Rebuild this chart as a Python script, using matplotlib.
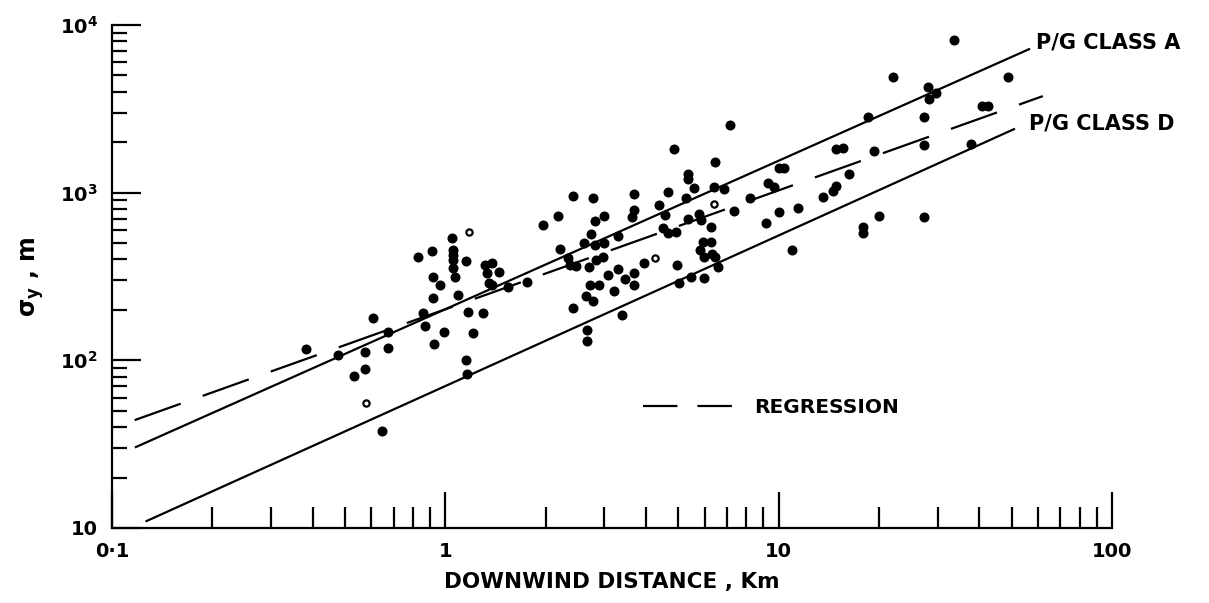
import matplotlib
matplotlib.use("Agg")
import matplotlib.pyplot as plt
from matplotlib.lines import Line2D

# observed sigma_y (solid dots)
obs_x = [0.383, 0.478, 0.533, 0.575, 0.575, 0.608, 0.647, 0.675, 0.675, 0.830,
         0.859, 0.871, 0.927, 0.993, 0.914, 0.920, 0.920, 0.966, 1.05, 1.054,
         1.054, 1.054, 1.054, 1.07, 1.094, 1.156, 1.156, 1.163, 1.172, 1.30,
         1.213, 1.318, 1.384, 1.452, 1.337, 1.355, 1.384, 1.546, 1.762,
         1.969, 2.18, 2.42, 2.78, 3.67, 4.84, 4.64, 4.39, 4.55, 3.67,
         3.62, 3.00, 2.82, 2.73, 2.60, 2.82, 3.00, 3.29, 2.21, 2.34,
         2.37, 2.46, 2.69, 2.84, 2.98, 3.07, 3.29, 3.67, 3.94, 4.94,
         5.01, 2.71, 2.90, 3.20, 3.47, 3.67, 2.65, 2.78, 2.42, 3.38,
         2.67, 2.67, 4.49, 4.67, 4.91, 5.33, 5.33, 5.56, 5.26, 6.38,
         6.84, 7.13, 6.42, 5.75, 5.83, 6.25, 5.33, 7.33, 8.18, 9.27,
         9.66, 10.0, 10.35, 5.91, 6.25, 5.79, 6.29, 5.95, 6.42, 6.56,
         5.44, 5.95, 9.14, 10.0, 11.4, 11.0, 13.6, 14.6, 14.9, 16.2,
         14.9, 15.6, 19.3, 18.5, 22.1, 17.9, 17.9, 20.0, 33.6, 48.8,
         28.0, 28.2, 29.6, 27.2, 40.7, 42.5, 27.2, 37.8, 27.2]
obs_y = [117, 108, 80.5, 112, 88.8, 179, 37.9, 147, 118, 413,
         191, 160, 125, 147, 450, 314, 235, 281, 535, 456,
         425, 396, 355, 314, 245, 390, 100, 82.8, 194, 191,
         146, 370, 380, 336, 332, 289, 281, 274, 293,
         640, 725, 955, 930, 980, 1820, 1010, 845, 735, 790,
         715, 725, 680, 565, 500, 485, 500, 550, 460, 407,
         370, 365, 360, 396, 413, 323, 350, 332, 380, 370,
         289, 281, 281, 259, 305, 281, 242, 226, 205, 186,
         152, 130, 615, 575, 580, 1290, 1205, 1065, 930, 1080,
         1050, 2530, 1520, 745, 690, 620, 695, 775, 930, 1140,
         1080, 1400, 1400, 505, 505, 455, 430, 413, 413, 360,
         314, 310, 660, 765, 810, 455, 940, 1020, 1095, 1290,
         1820, 1840, 1770, 2820, 4890, 620, 575, 725, 8130, 4890,
         4260, 3610, 3930, 2820, 3290, 3290, 1920, 1950, 715]

# hollow symbols
open_x = [0.579, 1.18, 4.25, 6.38]
open_y = [55.6, 580, 407, 855]

# curve end points
classA_x = [0.118, 56.4]
classA_y = [30.4, 7180]
classD_x = [0.127, 50.8]
classD_y = [11.0, 2393]
regr_x = [0.117, 62.0]
regr_y = [44.0, 3767]

x_ticks = [0.1, 1, 10, 100]
x_labels = ["0·1", "1", "10", "100"]
y_ticks = [10, 100, 1000, 10000]
y_labels = ["10", r"$\mathbf{10^{2}}$", r"$\mathbf{10^{3}}$", r"$\mathbf{10^{4}}$"]

plt.rcParams['font.family'] = ['DejaVu Sans']
plt.rcParams['font.weight'] = 'bold'

fig = plt.figure(figsize=(12.09, 6.03), dpi=100)
ax = fig.add_axes([0.0926, 0.1244, 0.9198 - 0.0926, 0.9585 - 0.1244])

ax.plot(classA_x, classA_y, color='black', lw=1.6)
ax.plot(classD_x, classD_y, color='black', lw=1.6)
ax.plot(regr_x, regr_y, color='black', lw=1.6, dashes=(22, 10.5))

ax.plot(obs_x, obs_y, 'o', color='black', ms=6.2, mec='black')
ax.plot(open_x, open_y, 'o', mfc='white', mec='black', ms=4.5, mew=1.6)

ax.set_xscale('log')
ax.set_yscale('log')
ax.set_xlim(0.1, 100)
ax.set_ylim(10, 10000)

ax.spines['top'].set_visible(False)
ax.spines['right'].set_visible(False)
ax.spines['left'].set_linewidth(1.6)
ax.spines['bottom'].set_linewidth(1.6)

ax.set_xticks(x_ticks)
ax.set_xticklabels(x_labels, fontsize=14, fontweight='bold')
ax.set_yticks(y_ticks)
ax.set_yticklabels(y_labels, fontsize=14, fontweight='bold')

ax.tick_params(axis='x', which='major', direction='in', length=26, width=1.6, pad=10)
ax.tick_params(axis='x', which='minor', direction='in', length=15, width=1.6, labelbottom=False)
ax.tick_params(axis='y', which='major', direction='in', length=21, width=1.6, pad=10)
ax.tick_params(axis='y', which='minor', direction='in', length=11, width=1.6, labelleft=False)

ax.set_xlabel("DOWNWIND DISTANCE , Km", fontsize=15.5, fontweight='bold', labelpad=8)
ax.set_ylabel(r"$\mathbf{\sigma_y}$ , m", fontsize=17, fontweight='bold', labelpad=10)

ax.text(59, 7900, "P/G CLASS A", fontsize=15, fontweight='bold', va='center', ha='left')
ax.text(56.4, 2600, "P/G CLASS D", fontsize=15, fontweight='bold', va='center', ha='left')

key = Line2D([], [], color='black', lw=1.6, dashes=(15.5, 9))
ax.legend([key], ["REGRESSION"], loc='center left', bbox_to_anchor=(0.531, 0.239),
          frameon=False, borderpad=0, borderaxespad=0, handlelength=4.7,
          handletextpad=0.8, prop={'size': 14.5, 'weight': 'bold'})

fig.savefig("out.png", dpi=100)
